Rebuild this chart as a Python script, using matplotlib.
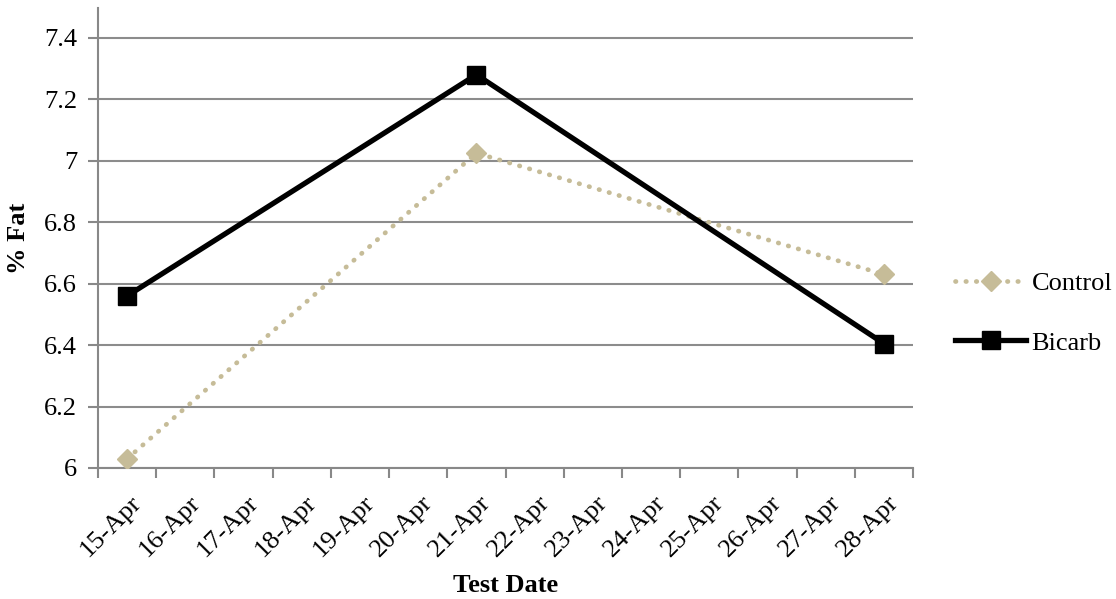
import matplotlib
matplotlib.use("Agg")
import matplotlib.pyplot as plt
import matplotlib.transforms as mtransforms
import numpy as np

plt.rcParams['font.family'] = ['Liberation Serif', 'DejaVu Serif']

categories = ["15-Apr", "16-Apr", "17-Apr", "18-Apr", "19-Apr", "20-Apr", "21-Apr",
              "22-Apr", "23-Apr", "24-Apr", "25-Apr", "26-Apr", "27-Apr", "28-Apr"]
test_dates = ["15-Apr", "21-Apr", "28-Apr"]
control = [6.03, 7.025, 6.63]
bicarb = [6.56, 7.28, 6.405]
yticks = [6, 6.2, 6.4, 6.6, 6.8, 7, 7.2, 7.4]
ytick_labels = ["6", "6.2", "6.4", "6.6", "6.8", "7", "7.2", "7.4"]

FS = 19

fig = plt.figure(figsize=(11.16, 5.99), dpi=100)
ax = fig.add_axes([98/1116, 1-468/599, (913-98)/1116, (468-8)/599])

xpos = [categories.index(d) for d in test_dates]

ax.plot(xpos, control, color='#C6BC98', lw=3.4, linestyle=(0, (0.1, 2.1)),
        dash_capstyle='round', marker='D', markersize=10, markerfacecolor='#C6BC98',
        markeredgecolor='#C6BC98', label='Control', zorder=3)
ax.plot(xpos, bicarb, color='black', lw=3.8, marker='s', markersize=12.5,
        markerfacecolor='black', markeredgecolor='black', label='Bicarb', zorder=4)

ax.set_xlim(-0.5, len(categories) - 0.5)
ax.set_ylim(6, 7.497)
ax.set_yticks(yticks)
ax.set_yticklabels(ytick_labels, fontsize=FS)

ax.set_xticks(np.arange(len(categories) + 1) - 0.5, minor=False)
ax.set_xticklabels([])
ax.set_xticks(np.arange(len(categories)), minor=True)
ax.set_xticklabels(categories, minor=True, rotation=45, ha='right', va='center',
                   rotation_mode='anchor', fontsize=FS)
ax.tick_params(axis='x', which='minor', length=0, pad=0)
ax.tick_params(axis='x', which='major', length=7, width=1.5, color='#888888', direction='out')
ax.tick_params(axis='y', length=7, width=1.5, color='#888888', direction='out', pad=8)

offset = mtransforms.ScaledTranslation(11/100, -31/100, fig.dpi_scale_trans)
for lbl in ax.xaxis.get_minorticklabels():
    lbl.set_transform(lbl.get_transform() + offset)

ax.grid(axis='y', color='#8C8C8C', lw=1.5)
ax.set_axisbelow(True)
for s in ['top', 'right']:
    ax.spines[s].set_visible(False)
for s in ['left', 'bottom']:
    ax.spines[s].set_color('#888888')
    ax.spines[s].set_linewidth(1.5)

ax.set_ylabel('% Fat', fontsize=FS, fontweight='bold', va='center')
ax.yaxis.set_label_coords(-0.098, 0.5)
ax.set_xlabel('Test Date', fontsize=FS, fontweight='bold', va='center')
ax.xaxis.set_label_coords(0.5, -117/460)

leg = ax.legend(loc='center left', bbox_to_anchor=(1.0386, 0.337), frameon=False,
                fontsize=FS, handlelength=2.7, labelspacing=1.38, handletextpad=0.2,
                borderaxespad=0)

fig.savefig('out.png', dpi=100)
